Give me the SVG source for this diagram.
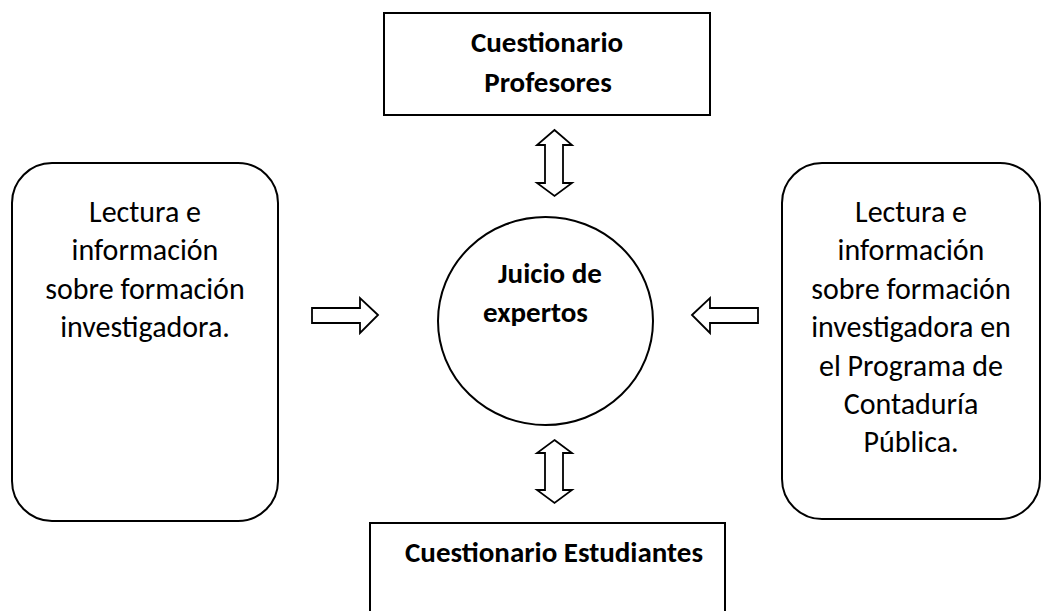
<svg xmlns="http://www.w3.org/2000/svg" width="1047" height="611" viewBox="0 0 1047 611">
<style>
.box{fill:#fff;stroke:#000;stroke-width:2}
.arr{fill:#fff;stroke:#000;stroke-width:1.8;stroke-linejoin:miter}
.t{font-family:Carlito,Calibri,Lato,"Liberation Sans",sans-serif;font-size:30px;fill:#000}
.b{font-weight:bold;font-size:29px}
.c{text-anchor:middle}
</style>
<rect width="1047" height="611" fill="#fff"/>
<g id="connectors">
<polygon class="arr" points="554.5,130 572,145 563,145 563,183 572,183 554.5,196 537,183 545,183 545,145 537,145"/>
<polygon class="arr" points="554.5,440 572,453 563,453 563,490 572,490 554.5,503 537,490 545,490 545,453 537,453"/>
<polygon class="arr" points="692,315 710,298 710,308 758,308 758,323 710,323 710,333"/>
<polygon class="arr" points="378,315 360,298 360,308 312,308 312,323 360,323 360,333"/>
</g>
<g id="top-box">
<rect class="box" x="384" y="13" width="326" height="102"/>
<text class="t b c" x="547" y="52">Cuestionario</text>
<text class="t b c" x="548" y="92">Profesores</text>
</g>
<g id="center">
<ellipse class="box" cx="545.5" cy="321" rx="107.5" ry="104"/>
<text class="t b" x="498" y="283">Juicio de</text>
<text class="t b" x="483" y="322">expertos</text>
</g>
<g id="left-box">
<rect class="box" x="12" y="163" width="266" height="358" rx="40" ry="40"/>
<text class="t c" x="145" y="222">Lectura e</text>
<text class="t c" x="145" y="260">información</text>
<text class="t c" x="145" y="299">sobre formación</text>
<text class="t c" x="145" y="337">investigadora.</text>
</g>
<g id="right-box">
<rect class="box" x="782" y="163" width="258" height="356" rx="40" ry="40"/>
<text class="t c" x="911" y="222">Lectura e</text>
<text class="t c" x="911" y="260">información</text>
<text class="t c" x="911" y="299">sobre formación</text>
<text class="t c" x="911" y="337">investigadora en</text>
<text class="t c" x="911" y="376">el Programa de</text>
<text class="t c" x="911" y="414">Contaduría</text>
<text class="t c" x="911" y="452">Pública.</text>
</g>
<g id="bottom-box">
<rect class="box" x="370" y="523" width="355" height="100"/>
<text class="t b" x="405" y="562">Cuestionario Estudiantes</text>
</g>
</svg>
